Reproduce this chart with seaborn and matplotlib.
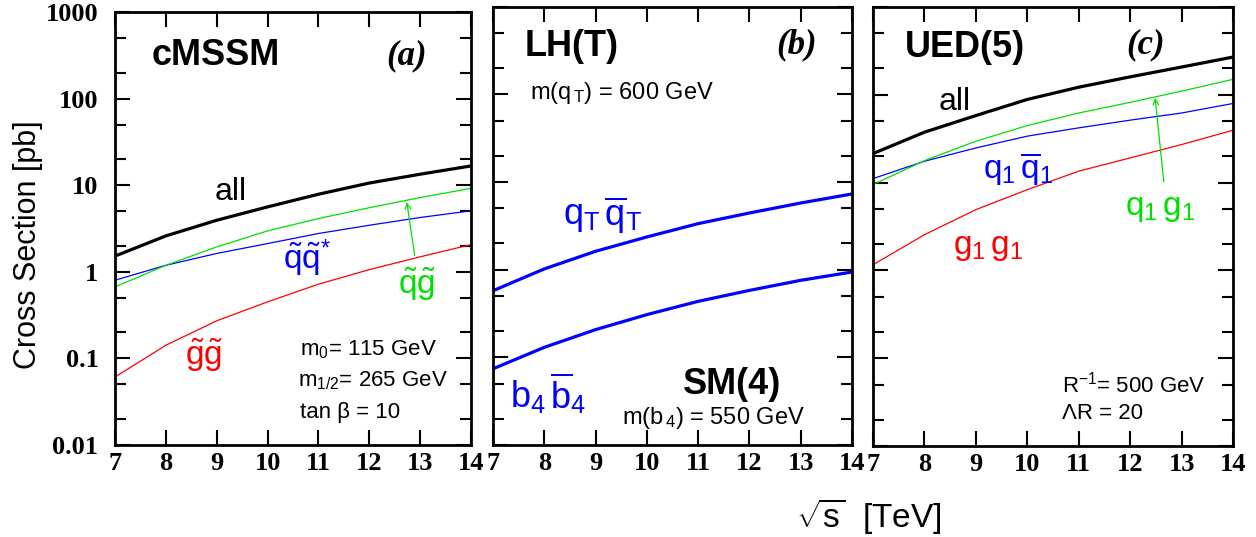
import numpy as np
import pandas as pd
import seaborn as sns
import matplotlib.pyplot as plt

sqrt_s = [7, 8, 9, 10, 11, 12, 13, 14]

# (a) cMSSM
cmssm_all = [1.52, 2.6, 3.94, 5.62, 7.87, 10.6, 13.4, 16.7]
cmssm_qg = [0.67, 1.19, 1.94, 2.97, 4.12, 5.5, 7.2, 9.2]
cmssm_qq = [0.80, 1.19, 1.63, 2.12, 2.77, 3.45, 4.24, 5.06]
cmssm_gg = [0.061, 0.142, 0.272, 0.45, 0.72, 1.06, 1.49, 2.06]

# (b) LH(T) / SM(4)
lht_qq = [0.575, 1.02, 1.62, 2.36, 3.35, 4.43, 5.76, 7.3]
sm4_bb = [0.074, 0.13, 0.207, 0.307, 0.435, 0.58, 0.756, 0.94]

# (c) UED(5)
ued_all = [21.4, 37.5, 58, 88.5, 122, 160, 207, 269]
ued_qg = [9.5, 17.8, 29.6, 44.6, 62, 82, 110, 150]
ued_qq = [11.1, 17.5, 24.8, 33.8, 42, 51.4, 62, 79.6]
ued_gg = [1.16, 2.55, 4.92, 8.3, 13.5, 19.1, 27.1, 39.5]

sns.set_style("ticks", {"axes.edgecolor": "black", "xtick.color": "black",
                        "ytick.color": "black", "text.color": "black"})
plt.rcParams["font.family"] = ["Liberation Sans", "DejaVu Sans"]
plt.rcParams["mathtext.fontset"] = "custom"
plt.rcParams["mathtext.rm"] = "Liberation Sans"
plt.rcParams["mathtext.it"] = "Liberation Sans"
plt.rcParams["mathtext.bf"] = "Liberation Sans:bold"

fig = plt.figure(figsize=(12.56, 5.37), dpi=100)
axes = [
    fig.add_axes([0.0916, 0.1713, 0.2834, 0.8063]),
    fig.add_axes([0.3925, 0.1713, 0.2858, 0.8163]),
    fig.add_axes([0.6951, 0.1695, 0.2866, 0.8175]),
]

RED, GREEN, BLUE = "#ff0000", "#00e000", "#0000ff"


def draw(ax, y, color, lw):
    df = pd.DataFrame({"x": sqrt_s, "y": y})
    sns.lineplot(data=df, x="x", y="y", ax=ax, color=color, linewidth=lw)


draw(axes[0], cmssm_gg, RED, 0.9)
draw(axes[0], cmssm_qq, BLUE, 0.9)
draw(axes[0], cmssm_qg, GREEN, 0.9)
draw(axes[0], cmssm_all, "black", 2.3)

draw(axes[1], lht_qq, BLUE, 2.3)
draw(axes[1], sm4_bb, BLUE, 2.3)

draw(axes[2], ued_gg, RED, 0.9)
draw(axes[2], ued_qq, BLUE, 0.9)
draw(axes[2], ued_qg, GREEN, 0.9)
draw(axes[2], ued_all, "black", 2.3)

for i, ax in enumerate(axes):
    ax.set_yscale("log")
    ax.set_xlim(7, 14)
    ax.set_ylim(0.01, 1000)
    ax.set_xticks(sqrt_s)
    ax.set_yticks([0.01, 0.1, 1, 10, 100, 1000])
    ax.set_yticks([v * m for v in [0.01, 0.1, 1, 10, 100] for m in (2, 5)], minor=True)
    ax.set_xlabel("")
    ax.set_ylabel("")
    ax.tick_params(which="both", direction="in", top=True, right=True, width=1.5, color="black")
    ax.tick_params(which="major", length=11)
    ax.tick_params(which="minor", length=8)
    ax.tick_params(axis="x", which="minor", bottom=False, top=False)
    ax.tick_params(axis="x", labelsize=19, pad=5)
    for lab in ax.get_xticklabels():
        lab.set_family("Liberation Serif")
        lab.set_weight("bold")
    if i == 0:
        ax.set_yticklabels(["0.01", "0.1", "1", "10", "100", "1000"])
        ax.tick_params(axis="y", labelsize=19, pad=12)
        for lab in ax.get_yticklabels():
            lab.set_family("Liberation Serif")
            lab.set_weight("bold")
    else:
        ax.set_yticklabels([])
    for sp in ax.spines.values():
        sp.set_linewidth(2)
        sp.set_color("black")
        sp.set_visible(True)

# panel (a)
ax = axes[0]
ax.text(0.104, 0.90, "cMSSM", transform=ax.transAxes, fontsize=26, weight="bold", va="center")
ax.text(0.82, 0.90, "(a)", transform=ax.transAxes, fontsize=25, weight="bold", style="italic",
        family="Liberation Serif", ha="center", va="center")
ax.text(0.281, 0.584, "all", transform=ax.transAxes, fontsize=23, va="center")
ax.text(0.472, 0.432, r"$\tilde{q}\tilde{q}^{*}$", transform=ax.transAxes, fontsize=24, color=BLUE, va="center")
ax.text(0.795, 0.37, r"$\tilde{q}\tilde{g}$", transform=ax.transAxes, fontsize=24, color=GREEN, va="center")
ax.text(0.197, 0.208, r"$\tilde{g}\tilde{g}$", transform=ax.transAxes, fontsize=24, color=RED, va="center")
ax.text(0.52, 0.22, r"m$_0$= 115 GeV", transform=ax.transAxes, fontsize=16, va="center")
ax.text(0.515, 0.148, r"m$_{1/2}$= 265 GeV", transform=ax.transAxes, fontsize=16, va="center")
ax.text(0.52, 0.074, "tan β = 10", transform=ax.transAxes, fontsize=16, va="center")
ax.annotate("", xy=(12.73, 6.85), xytext=(12.9, 1.43),
            arrowprops=dict(arrowstyle="->", color=GREEN, lw=0.9))

# panel (b)
ax = axes[1]
ax.text(0.089, 0.908, "LH(T)", transform=ax.transAxes, fontsize=26, weight="bold", va="center")
ax.text(0.847, 0.912, "(b)", transform=ax.transAxes, fontsize=25, weight="bold", style="italic",
        family="Liberation Serif", ha="center", va="center")
ax.text(0.103, 0.803, r"m(q$_{\,T}$) = 600 GeV", transform=ax.transAxes, fontsize=17, va="center")
ax.text(0.195, 0.525, r"q$_T\,\overline{\mathrm{q}}_T$", transform=ax.transAxes, fontsize=26,
        color=BLUE, va="center")
ax.text(0.047, 0.119, r"b$_4\,\overline{\mathrm{b}}_4$", transform=ax.transAxes, fontsize=26,
        color=BLUE, va="center")
ax.text(0.529, 0.137, "SM(4)", transform=ax.transAxes, fontsize=26, weight="bold", va="center")
ax.text(0.359, 0.062, r"m(b$_{\,4}$) = 550 GeV", transform=ax.transAxes, fontsize=17, va="center")

# panel (c)
ax = axes[2]
ax.text(0.089, 0.907, "UED(5)", transform=ax.transAxes, fontsize=26, weight="bold", va="center")
ax.text(0.758, 0.913, "(c)", transform=ax.transAxes, fontsize=25, weight="bold", style="italic",
        family="Liberation Serif", ha="center", va="center")
ax.text(0.181, 0.784, "all", transform=ax.transAxes, fontsize=23, va="center")
ax.text(0.306, 0.629, r"q$_1\,\overline{\mathrm{q}}_1$", transform=ax.transAxes, fontsize=24,
        color=BLUE, va="center")
ax.text(0.70, 0.542, r"q$_1\,$g$_1$", transform=ax.transAxes, fontsize=24, color=GREEN, va="center")
ax.text(0.222, 0.451, r"g$_1\,$g$_1$", transform=ax.transAxes, fontsize=24, color=RED, va="center")
ax.text(0.525, 0.139, r"R$^{-1}$= 500 GeV", transform=ax.transAxes, fontsize=16, va="center")
ax.text(0.525, 0.075, "ΛR = 20", transform=ax.transAxes, fontsize=16, va="center")
ax.annotate("", xy=(12.48, 99), xytext=(12.66, 9.5),
            arrowprops=dict(arrowstyle="->", color=GREEN, lw=0.9))

fig.text(0.022, 0.545, "Cross Section [pb]", rotation=90, fontsize=22, ha="center", va="center")
fig.text(0.692, 0.04, r"$\sqrt{s}$  [TeV]", fontsize=24, ha="center", va="center")

fig.savefig("out.png", dpi=100)
